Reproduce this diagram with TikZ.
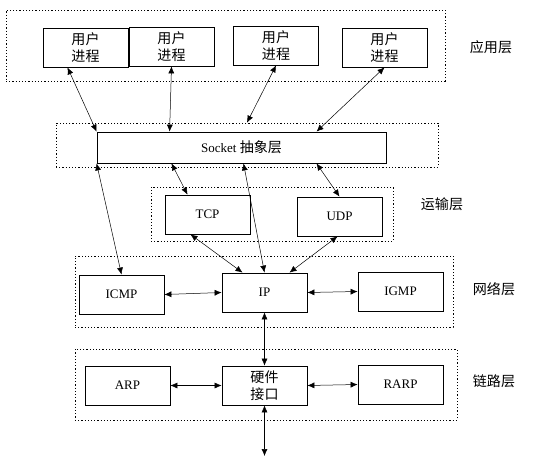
\documentclass[tikz,border=0pt]{standalone}
\usepackage{fontspec}
\setmainfont{Liberation Serif}
\newfontfamily\cjk[Scale=1.08]{Noto Sans CJK SC}
\usetikzlibrary{arrows.meta,positioning,calc}

\begin{document}
\begin{tikzpicture}[
    x=1pt, y=-1pt,
    box/.style={draw, line width=0.8pt, minimum width=85pt, minimum height=39pt, align=center, inner sep=0pt, font=\fontsize{13}{17}\selectfont},
    wide/.style={box, minimum width=289pt, minimum height=31pt},
    layer/.style={draw, dash pattern=on 1.2pt off 2pt, line width=0.7pt, inner sep=0pt},
    link/.style={<->, >={Latex[length=7pt,width=6pt]}, line width=0.5pt},
    label/.style={font=\cjk\fontsize{13}{15}\selectfont}
]

\useasboundingbox[fill=white] (0,0) rectangle (545,461);

% Layer frames
\node[layer, minimum width=439pt, minimum height=71pt] (applayer) at (225.5,45.5) {};
\node[layer, minimum width=382pt, minimum height=44pt] (socketlayer) at (247,145) {};
\node[layer, minimum width=242pt, minimum height=54pt] (translayer) at (272,214) {};
\node[layer, minimum width=378pt, minimum height=71pt] (netlayer) at (264,291.5) {};
\node[layer, minimum width=382pt, minimum height=71pt] (linklayer) at (266,384.5) {};

% Application layer
\node[box] (usr1) at (85.5,47.5) {\cjk 用户\\\cjk 进程};
\node[box] (usr2) at (171.5,46.5) {\cjk 用户\\\cjk 进程};
\node[box] (usr3) at (276,45.5) {\cjk 用户\\\cjk 进程};
\node[box] (usr4) at (384.5,47.5) {\cjk 用户\\\cjk 进程};

% Socket abstraction
\node[wide] (socket) at (241.5,147.5) {Socket {\cjk 抽象层}};

% Transport layer
\node[box] (tcp) at (207.5,214.5) {TCP};
\node[box] (udp) at (339.5,216.5) {UDP};

% Network layer
\node[box] (ip) at (264.5,292.5) {IP};
\node[box] (icmp) at (121.5,294.5) {ICMP};
\node[box] (igmp) at (400.5,291.5) {IGMP};

% Link layer
\node[box, below of=ip, node distance=93pt] (hw) {\cjk 硬件\\\cjk 接口};
\node[box] (arp) at (127.5,385.5) {ARP};
\node[box] (rarp) at (400.5,384.5) {RARP};
\coordinate (wire) at (264.5,456);

% Layer names
\node[label] (applabel) at (491,47) {应用层};
\node[label] (translabel) at (442,204) {运输层};
\node[label] (netlabel) at (494,289) {网络层};
\node[label] (linklabel) at (494,381) {链路层};

% Processes to socket
\draw[link] ([xshift=-18pt]usr1.south) -- (socket.north west);
\draw[link] (usr2.south) -- ([xshift=73pt]socket.north west);
\draw[link] (usr3.south) -- (socketlayer.north);
\draw[link] (usr4.south) -- ([xshift=75pt]socket.north);

% Socket to lower layers
\draw[link] (socket.south west) -- (icmp.north);
\draw[link] ([xshift=-70pt]socket.south) -- ([xshift=-20pt]tcp.north);
\draw[link] ([xshift=2pt]socket.south) -- (ip.north);
\draw[link] ([xshift=75pt]socket.south) -- (udp.north);

% Transport to network
\draw[link] ([xshift=-17pt]tcp.south) -- ([xshift=-22pt]ip.north);
\draw[link] ([xshift=-2pt]udp.south) -- ([xshift=25pt]ip.north);

% Network layer
\draw[link] (icmp.east) -- (ip.west);
\draw[link] (ip.east) -- (igmp.west);
\draw[link] (ip.south) -- (hw.north);

% Link layer
\draw[link] (arp.east) -- (hw.west);
\draw[link] (hw.east) -- (rarp.west);
\draw[link] (hw.south) -- (wire);

\end{tikzpicture}
\end{document}
